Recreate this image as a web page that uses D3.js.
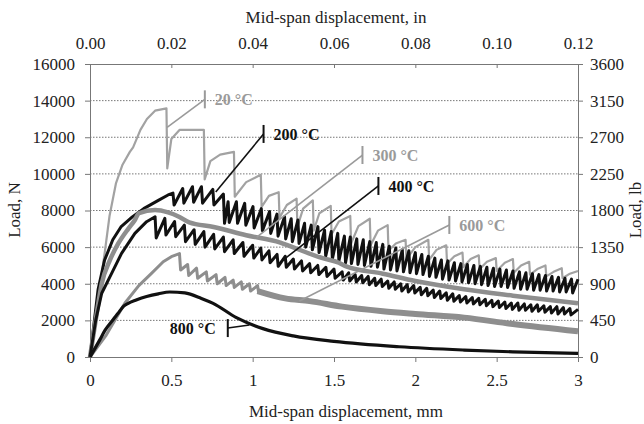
<!DOCTYPE html>
<html>
<head>
<meta charset="utf-8">
<script src="https://cdn.jsdelivr.net/npm/d3@7"></script>
<style>
  body { margin: 0; background: #fff; }
  text { font-family: "Liberation Serif", "Times New Roman", serif; }
</style>
</head>
<body>
<div id="chart"></div>
<script>
const width = 644, height = 424;

// axis ticks
const xTicksMm = [0, 0.5, 1, 1.5, 2, 2.5, 3];
const xTicksIn = [0, 0.02, 0.04, 0.06, 0.08, 0.10, 0.12];
const yTicksN = [0, 2000, 4000, 6000, 8000, 10000, 12000, 14000, 16000];
const yTicksLb = [0, 450, 900, 1350, 1800, 2250, 2700, 3150, 3600];

// 20 °C : [mm, N]
const curve20 = [
  [0,0],[0.05,3100],[0.092,5800],[0.12,7700],[0.16,9500],[0.2,10500],[0.245,11200],[0.265,11450],
  [0.31,12400],[0.35,13000],[0.4,13450],[0.47,13580],
  [0.475,10300],[0.5,11900],[0.55,12400],[0.70,12400],
  [0.705,9700],[0.74,10700],[0.8,11050],[0.885,11200],
  [0.89,8750],[0.96,9550],[1.05,9950],
  [1.055,8200],[1.1,8800],[1.16,9000],
  [1.165,7600],[1.21,8300],[1.27,8650],
  [1.275,7100],[1.31,8100],[1.37,8550],
  [1.375,6900],[1.41,7850],[1.48,8250],
  [1.485,6700],[1.53,7400],[1.60,7700],
  [1.605,6200],[1.65,7150],[1.72,7550],
  [1.725,6100],[1.77,6900],[1.83,7200],
  [1.835,5800],[1.88,6200],[1.94,6400],
  [1.945,5350],[2.0,6000],[2.08,6400],
  [2.085,5300],[2.13,5850],[2.19,6100],
  [2.195,5100],[2.24,5500],[2.29,5700],
  [2.295,4900],[2.34,5350],[2.39,5550],
  [2.395,4800],[2.44,5200],[2.495,5400],
  [2.5,4700],[2.55,5150],[2.6,5350],
  [2.605,4600],[2.65,5000],[2.7,5200],
  [2.705,4500],[2.75,4800],[2.8,5000],
  [2.805,4400],[2.85,4650],[2.9,4850],
  [2.905,4300],[2.95,4550],[3.0,4700]
];

// 200 °C : rising part [mm, N], then teeth [mm, peak N, trough N]
const rise200 = [[0,0],[0.05,3700],[0.09,5300],[0.14,6400],[0.19,7100],[0.26,7650],[0.33,8100],[0.42,8550],[0.48,8850]];
const teeth200 = [
  [0.51,8950,8300],[0.57,9200,8400],[0.63,9300,8450],[0.685,9300,8400],[0.755,9150,8300],[0.82,8900,7300],
  [0.849,8480,7350],[0.9,8480,7300],[0.951,8390,7200],[1.002,8210,7050],[1.053,8100,6900],[1.104,7940,6750],
  [1.149,7800,6600],[1.196,7660,6450],[1.237,7550,6300],[1.278,7480,6200],[1.319,7300,6000],[1.36,7200,5850],
  [1.401,7120,5700],[1.442,6930,5500],[1.483,6850,5350],[1.523,6750,5250],[1.564,6600,5150],
  [1.60,6550,5100],[1.64,6450,5050],[1.68,6400,5000],[1.72,6300,4950],[1.76,6250,4900],[1.80,6150,4800],
  [1.84,6050,4750],[1.88,5950,4700],[1.92,5850,4650],[1.96,5800,4600],[2.00,5700,4550],[2.04,5600,4500],
  [2.08,5500,4400],[2.12,5400,4350],[2.16,5300,4250],[2.20,5250,4200],[2.24,5150,4150],[2.28,5100,4100],
  [2.32,5050,4050],[2.36,5000,4000],[2.40,4950,3950],[2.44,4900,3900],[2.48,4850,3850],[2.52,4800,3850],
  [2.56,4750,3800],[2.60,4700,3750],[2.64,4650,3700],[2.68,4600,3700],[2.72,4550,3650],[2.76,4500,3650],
  [2.80,4450,3600],[2.84,4400,3600],[2.88,4350,3550],[2.92,4300,3550],[2.96,4250,3500]
];
const end200 = [3.0, 4250];

// 300 °C : [mm, N]
const curve300 = [
  [0,0],[0.04,2300],[0.072,4000],[0.123,5300],[0.174,6200],[0.235,7000],[0.276,7480],[0.3,7850],
  [0.4,8030],[0.48,7900],[0.55,7650],[0.61,7350],[0.76,7100],[0.96,6650],[1.17,6250],[1.23,6050],
  [1.43,5400],[1.53,5150],[1.575,4950],[1.8,4550],[2.0,4150],[2.3,3700],[2.6,3350],[3.0,2930]
];

// 400 °C : rising part, teeth [mm, peak N, trough N]
const rise400 = [[0,0],[0.035,2000],[0.072,3480],[0.133,4570],[0.194,5660],[0.276,6750],[0.348,7390]];
const teeth400 = [
  [0.40,7660,6500],[0.46,7570,6660],[0.52,7400,6570],[0.58,7200,6300],[0.64,6950,6150],[0.70,6850,6000],
  [0.76,6700,5900],[0.82,6550,5750],[0.88,6400,5650],[0.94,6250,5500],[1.00,6100,5400],[1.05,5950,5300],
  [1.10,5800,5150],[1.15,5600,4950],[1.20,5500,4900],[1.25,5350,4800],[1.30,5250,4700],[1.35,5100,4600],
  [1.40,5000,4500],[1.45,4900,4400],[1.50,4800,4300],
  [1.55,4650,4200],[1.59,4600,4150],[1.63,4500,4100],[1.67,4450,4050],[1.71,4400,3950],[1.75,4300,3900],
  [1.79,4250,3850],[1.83,4150,3750],[1.87,4100,3700],[1.91,4000,3600],[1.95,3950,3550],[1.99,3900,3500],
  [2.03,3800,3400],[2.07,3750,3350],[2.11,3650,3250],[2.15,3600,3200],[2.19,3500,3100],[2.23,3450,3050],
  [2.27,3350,3000],[2.31,3300,2950],[2.35,3250,2900],[2.39,3200,2850],[2.43,3150,2800],[2.47,3100,2750],
  [2.51,3050,2700],[2.55,3000,2650],[2.59,2950,2600],[2.63,2950,2550],[2.67,2900,2550],[2.71,2850,2500],
  [2.75,2850,2500],[2.79,2800,2450],[2.83,2750,2400],[2.87,2750,2350],[2.91,2700,2350],[2.95,2650,2300]
];
const end400 = [3.0, 2600];

// 600 °C : rising part, teeth, then the noisy band (centre line)
const rise600 = [[0,0],[0.1,1200],[0.215,2950],[0.3,3900],[0.378,4570],[0.45,5200],[0.5,5480]];
const teeth600 = [
  [0.55,5650,4750],[0.60,5050,4450],[0.655,4850,4300],[0.715,4650,4150],[0.775,4500,4000],
  [0.83,4350,3900],[0.88,4200,3800],[0.93,4100,3700],[0.98,4000,3600],[1.03,3900,3500]
];
const band600 = [[1.03,3600],[1.2,3200],[1.35,3050],[1.55,2750],[1.8,2500],[2.0,2350],[2.3,2150],[2.6,1800],[3.0,1400]];

// 800 °C : [mm, N]
const curve800 = [
  [0,0],[0.061,950],[0.092,1450],[0.143,2050],[0.174,2400],[0.204,2750],[0.235,2930],[0.28,3100],
  [0.348,3300],[0.42,3450],[0.49,3550],[0.583,3500],[0.685,3200],[0.757,2930],[0.9,2150],[1.063,1550],
  [1.25,1150],[1.5,850],[1.9,560],[2.3,380],[2.6,280],[3.0,200]
];

// curve labels: tick point and leader end point, [mm, N]
const labelNames = ["20 °C", "200 °C", "300 °C", "400 °C", "600 °C", "800 °C"];
const labelTick = [[0.706,14070],[1.067,12180],[1.675,11030],[1.773,9340],[2.209,7210],[0.847,1580]];
const labelEnd = [[0.474,12540],[0.773,9010],[1.025,6550],[1.172,5190],[1.288,3060],[0.98,1750]];

const grey = "#9a9a9a", dark = "#111";
const labelColors = [grey, dark, grey, dark, grey, dark];

let svg = d3.select("#chart").append("svg")
  .attr("width", width)
  .attr("height", height);

let x = d3.scaleLinear().domain([0, 3]).range([90, 578]);
let xIn = d3.scaleLinear().domain([0, 0.12]).range([90, 578]);
let y = d3.scaleLinear().domain([0, 16000]).range([357, 64]);
let yLb = d3.scaleLinear().domain([0, 3600]).range([357, 64]);

// dotted gridlines
svg.append("g").selectAll("line")
  .data(yTicksN.slice(1, -1))
  .join("line")
  .attr("x1", x(0)).attr("x2", x(3))
  .attr("y1", d => y(d)).attr("y2", d => y(d))
  .attr("stroke", "#777")
  .attr("stroke-width", 1)
  .attr("stroke-dasharray", "1.5,1.5");

function styleAxis(g) {
  g.attr("font-family", null);
  g.selectAll(".domain").attr("stroke", "#777");
  g.selectAll(".tick line").attr("stroke", "#777");
  g.selectAll("text")
    .style("font-family", "'Liberation Serif', serif")
    .attr("font-size", 17)
    .attr("fill", "#222");
}

svg.append("g")
  .attr("transform", `translate(0,${y(0)})`)
  .call(d3.axisBottom(x).tickValues(xTicksMm).tickSize(5).tickPadding(12).tickFormat(d => String(d)))
  .call(styleAxis);

svg.append("g")
  .attr("transform", `translate(0,${y(16000)})`)
  .call(d3.axisTop(xIn).tickValues(xTicksIn).tickSizeInner(-4).tickSizeOuter(0).tickPadding(15).tickFormat(d3.format(".2f")))
  .call(styleAxis);

svg.append("g")
  .attr("transform", `translate(${x(0)},0)`)
  .call(d3.axisLeft(y).tickValues(yTicksN).tickSize(5).tickPadding(10))
  .call(styleAxis)
  .call(g => g.selectAll("text").text(d => d));

svg.append("g")
  .attr("transform", `translate(${x(3)},0)`)
  .call(d3.axisRight(yLb).tickValues(yTicksLb).tickSize(5).tickPadding(7))
  .call(styleAxis)
  .call(g => g.selectAll("text").text(d => d));

// axis titles
svg.append("text")
  .attr("x", 336).attr("y", 23)
  .attr("text-anchor", "middle").attr("font-size", 17).attr("fill", "#222")
  .text("Mid-span displacement, in");
svg.append("text")
  .attr("x", 346).attr("y", 417)
  .attr("text-anchor", "middle").attr("font-size", 17).attr("fill", "#222")
  .text("Mid-span displacement, mm");
svg.append("text")
  .attr("transform", "translate(20,210) rotate(-90)")
  .attr("text-anchor", "middle").attr("font-size", 17).attr("fill", "#222")
  .text("Load, N");
svg.append("text")
  .attr("transform", "translate(641,210) rotate(-90)")
  .attr("text-anchor", "middle").attr("font-size", 17).attr("fill", "#222")
  .text("Load, lb");

// teeth rows -> point list (peak, then a near vertical drop to the trough)
function withTeeth(rise, teeth, end) {
  let pts = rise.slice();
  teeth.forEach(t => {
    pts.push([t[0], t[1]]);
    pts.push([t[0] + 0.007, t[2]]);
  });
  if (end) pts.push(end);
  return pts;
}

let line = d3.line()
  .x(d => x(d[0]))
  .y(d => y(d[1]));

let smooth = d3.line()
  .x(d => x(d[0]))
  .y(d => y(d[1]))
  .curve(d3.curveMonotoneX);

let curves = svg.append("g").attr("fill", "none").attr("stroke-linejoin", "round");

curves.append("path").attr("d", line(curve20))
  .attr("stroke", "#a2a2a2").attr("stroke-width", 2.2);
curves.append("path").attr("d", line(withTeeth(rise200, teeth200, end200)))
  .attr("stroke", dark).attr("stroke-width", 3);
curves.append("path").attr("d", smooth(curve300))
  .attr("stroke", "#8e8e8e").attr("stroke-width", 4.5);
curves.append("path").attr("d", line(withTeeth(rise400, teeth400, end400)))
  .attr("stroke", dark).attr("stroke-width", 3);
curves.append("path").attr("d", line(withTeeth(rise600, teeth600, null)))
  .attr("stroke", "#8e8e8e").attr("stroke-width", 3);
curves.append("path").attr("d", smooth(band600))
  .attr("stroke", "#8e8e8e").attr("stroke-width", 6);
curves.append("path").attr("d", smooth(curve800))
  .attr("stroke", dark).attr("stroke-width", 3.2);

// labels with leader lines
let labels = svg.append("g");
labelNames.forEach((name, i) => {
  let tx = x(labelTick[i][0]), ty = y(labelTick[i][1]);
  let col = labelColors[i];
  labels.append("line")
    .attr("x1", tx).attr("y1", ty)
    .attr("x2", x(labelEnd[i][0])).attr("y2", y(labelEnd[i][1]))
    .attr("stroke", col).attr("stroke-width", 1.6);
  labels.append("line")
    .attr("x1", tx).attr("x2", tx)
    .attr("y1", ty - 9).attr("y2", ty + 9)
    .attr("stroke", col).attr("stroke-width", 2);
  let left = name === "800 °C";
  labels.append("text")
    .attr("x", left ? tx - 12 : tx + 10)
    .attr("y", ty + 6)
    .attr("text-anchor", left ? "end" : "start")
    .attr("font-size", 16).attr("font-weight", "bold")
    .attr("fill", col)
    .text(name);
});
</script>
</body>
</html>
